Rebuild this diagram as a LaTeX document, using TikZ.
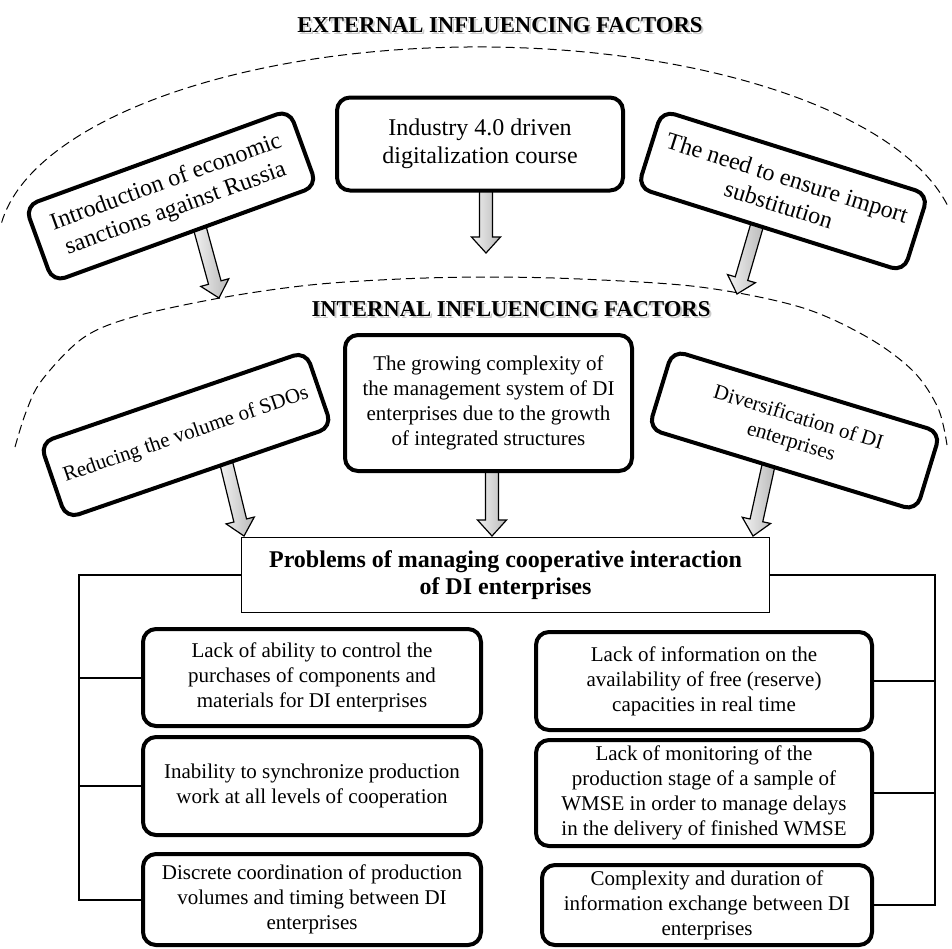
\documentclass[tikz,border=0pt]{standalone}
\usepackage{fontspec}
\setmainfont{Liberation Serif}
\usetikzlibrary{calc}
\begin{document}
\begin{tikzpicture}[x=1pt,y=1pt,
  rbox/.style={draw, line width=4pt, rounded corners=13pt, fill=white, align=center, inner sep=2pt},
  fbig/.style={font=\fontsize{24}{28}\selectfont},
  fmid/.style={font=\fontsize{21}{25}\selectfont},
  ttl/.style={font=\fontsize{22.7}{26}\selectfont\bfseries, anchor=base, inner sep=0pt},
  ttlshadow/.style={ttl, text=black!45, opacity=0.45},
  dline/.style={dash pattern=on 9pt off 5pt, line width=1pt},
  bline/.style={line width=2pt},
  probbox/.style={draw, line width=1.5pt, fill=white, align=center, inner sep=2pt, font=\fontsize{24}{27.5}\selectfont\bfseries},
  barrow/.style={draw, line width=1.2pt, line join=miter, left color=gray!10, right color=gray!55,
    to path={let \p1=($(\tikztotarget)!16pt!(\tikztostart)$) in
      ($(\tikztostart)!6.5pt!90:(\tikztotarget)$) -- ($(\p1)!6.5pt!90:(\tikztotarget)$) -- ($(\p1)!14.5pt!90:(\tikztotarget)$) -- (\tikztotarget) -- ($(\p1)!14.5pt!-90:(\tikztotarget)$) -- ($(\p1)!6.5pt!-90:(\tikztotarget)$) -- ($(\tikztostart)!6.5pt!-90:(\tikztotarget)$) -- cycle}}
]
\useasboundingbox (0,0) rectangle (952,-948);

% dashed arcs
\draw[dline] (1.6,-222.6) arc[start angle=173, end angle=12, x radius=480, y radius=200];
\draw[dline] plot[smooth, tension=0.55] coordinates {(15,-447) (26,-412) (42,-380) (83,-338) (133,-317) (220,-298) (310,-285) (400,-279) (485,-277) (580,-279) (700,-287) (800,-307) (867,-337) (913,-371) (938,-408) (947,-445)};

% arrow end points
\coordinate (a1s) at (199,-225); \coordinate (a1e) at (219,-298);
\coordinate (a2s) at (486,-185); \coordinate (a2e) at (486,-253);
\coordinate (a3s) at (758,-222); \coordinate (a3e) at (737,-294);
\coordinate (b1s) at (226,-462); \coordinate (b1e) at (244,-536);
\coordinate (b2s) at (492,-465); \coordinate (b2e) at (492,-536);
\coordinate (b3s) at (769,-463); \coordinate (b3e) at (753,-536);

\path[barrow] (a1s) to (a1e);
\path[barrow] (a2s) to (a2e);
\path[barrow] (a3s) to (a3e);
\path[barrow] (b1s) to (b1e);
\path[barrow] (b2s) to (b2e);
\path[barrow] (b3s) to (b3e);

% external factors
\node[rbox, fbig, minimum width=281pt, minimum height=81pt, rotate=20] (e1) at (171,-196) {Introduction of economic\\sanctions against Russia};
\node[rbox, fbig, minimum width=286pt, minimum height=93pt] (e2) at (480,-144) {Industry 4.0 driven\\digitalization course};
\node[rbox, fbig, minimum width=279pt, minimum height=81pt, rotate=-17.5] (e3) at (783,-191) {The need to ensure import\\substitution};

% internal factors
\node[rbox, fmid, minimum width=281pt, minimum height=80pt, rotate=19] (i1) at (186,-435) {Reducing the volume of SDOs};
\node[rbox, fmid, minimum width=287pt, minimum height=136pt] (i2) at (488.5,-403) {The growing complexity of\\the management system of DI\\enterprises due to the growth\\of integrated structures};
\node[rbox, fmid, minimum width=280pt, minimum height=82pt, rotate=-17] (i3) at (794.5,-430.5) {Diversification of DI\\enterprises};

% problems
\node[probbox, minimum width=528pt, minimum height=75pt] (pr) at (505.5,-575) {Problems of managing cooperative interaction\\of DI enterprises};

\node[rbox, fmid, minimum width=338pt, minimum height=97pt] (A) at (312,-677.5) {Lack of ability to control the\\purchases of components and\\materials for DI enterprises};
\node[rbox, fmid, minimum width=338pt, minimum height=98pt] (B) at (312,-786) {Inability to synchronize production\\work at all levels of cooperation};
\node[rbox, fmid, minimum width=338pt, minimum height=91pt] (C) at (312,-899.5) {Discrete coordination of production\\volumes and timing between DI\\enterprises};
\node[rbox, fmid, minimum width=336pt, minimum height=98pt] (D) at (704,-681) {Lack of information on the\\availability of free (reserve)\\capacities in real time};
\node[rbox, fmid, minimum width=336pt, minimum height=106pt] (E) at (704,-793) {Lack of monitoring of the\\production stage of a sample of\\WMSE in order to manage delays\\in the delivery of finished WMSE};
\node[rbox, fmid, minimum width=330pt, minimum height=80pt] (F) at (707,-905) {Complexity and duration of\\information exchange between DI\\enterprises};

% bracket lines
\coordinate (LT) at (79,-575);
\coordinate (RT) at (935,-575);
\draw[bline] (pr.west) -- (LT) -- (LT |- C.west) -- (C.west);
\draw[bline] (LT |- A.west) -- (A.west);
\draw[bline] (LT |- B.west) -- (B.west);
\draw[bline] (pr.east) -- (RT) -- (RT |- F.east) -- (F.east);
\draw[bline] (RT |- D.east) -- (D.east);
\draw[bline] (RT |- E.east) -- (E.east);

% titles
\node[ttlshadow] (t1s) at (502,-34.5) {EXTERNAL INFLUENCING FACTORS};
\node[ttl] (t1) at (500,-32) {EXTERNAL INFLUENCING FACTORS};
\node[ttlshadow] (t2s) at (513,-318.5) {INTERNAL INFLUENCING FACTORS};
\node[ttl] (t2) at (511,-316) {INTERNAL INFLUENCING FACTORS};
\end{tikzpicture}
\end{document}
